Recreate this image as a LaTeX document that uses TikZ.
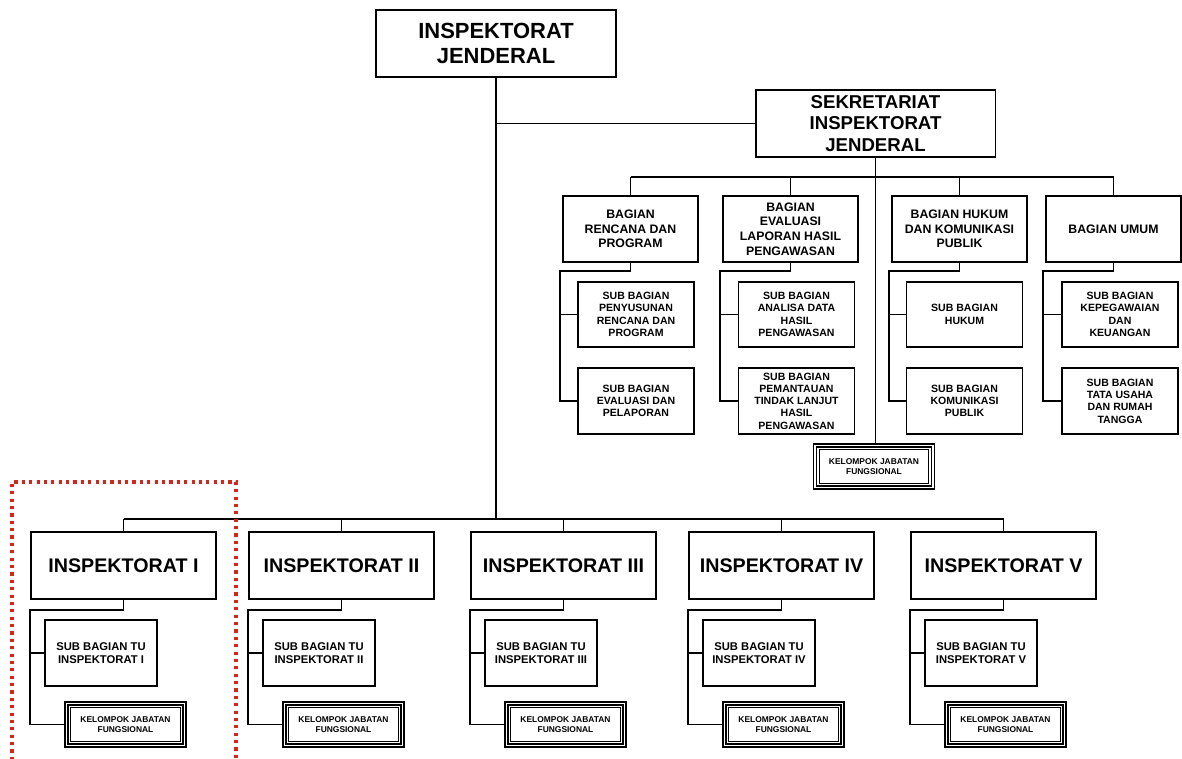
\documentclass[tikz,border=0pt]{standalone}
\usepackage{fontspec}
\setsansfont{Liberation Sans}
\usepackage{tikz}
\usetikzlibrary{positioning,calc}
\definecolor{dotred}{RGB}{214,38,28}
\tikzset{
  basic/.style  = {draw, line width=1.1pt, font=\sffamily\bfseries, rectangle,
                   align=center, inner sep=1pt},
  kepala/.style = {basic, minimum width=4.8cm, minimum height=1.34cm,
                   font=\sffamily\bfseries\fontsize{12.5}{14.2}\selectfont},
  sekre/.style  = {basic, minimum width=4.8cm, minimum height=1.34cm,
                   font=\sffamily\bfseries\fontsize{10.6}{12.4}\selectfont},
  bagian/.style = {basic, minimum width=2.7cm, minimum height=1.32cm,
                   font=\sffamily\bfseries\fontsize{7}{8.3}\selectfont},
  subbag/.style = {basic, minimum width=2.32cm, minimum height=1.31cm,
                   font=\sffamily\bfseries\fontsize{6}{7}\selectfont},
  insp/.style   = {basic, minimum width=3.7cm, minimum height=1.34cm,
                   font=\sffamily\bfseries\fontsize{11.2}{13}\selectfont},
  subtu/.style  = {basic, minimum width=2.24cm, minimum height=1.32cm,
                   font=\sffamily\bfseries\fontsize{6.4}{7.5}\selectfont},
  jafung/.style = {basic, line width=0.8pt, double, double distance=0.8pt,
                   minimum width=2.36cm, minimum height=0.84cm,
                   font=\sffamily\bfseries\fontsize{4.8}{5.8}\selectfont},
  garis/.style  = {line width=1.1pt},
  tepi/.style   = {dotred, line width=1.8pt, dash pattern=on 1.8pt off 2.4pt}
}

\begin{document}
\begin{tikzpicture}[x=0.02cm,y=-0.02cm]
  \useasboundingbox (0,0) rectangle (1182,758);

  % pimpinan dan sekretariat
  \node[kepala] (ij)  at (496,43.5)  {INSPEKTORAT\\JENDERAL};
  \node[sekre]  (sek) at (875.5,123.5) {SEKRETARIAT\\INSPEKTORAT\\JENDERAL};

  % bagian
  \node[bagian] (brp)   at (630.5,229) {BAGIAN\\RENCANA DAN\\PROGRAM};
  \node[bagian] (belhp) at (790.5,229) {BAGIAN\\EVALUASI\\LAPORAN HASIL\\PENGAWASAN};
  \node[bagian] (bhkp)  at (959.5,229) {BAGIAN HUKUM\\DAN KOMUNIKASI\\PUBLIK};
  \node[bagian] (bu)    at (1113.5,229) {BAGIAN UMUM};

  % sub bagian
  \node[subbag] (sbrp1)   at (636,314.5)  {SUB BAGIAN\\PENYUSUNAN\\RENCANA DAN\\PROGRAM};
  \node[subbag] (sbrp2)   at (636,401)    {SUB BAGIAN\\EVALUASI DAN\\PELAPORAN};
  \node[subbag] (sbelhp1) at (796.5,314.5){SUB BAGIAN\\ANALISA DATA\\HASIL\\PENGAWASAN};
  \node[subbag] (sbelhp2) at (796.5,401)  {SUB BAGIAN\\PEMANTAUAN\\TINDAK LANJUT\\HASIL\\PENGAWASAN};
  \node[subbag] (sbhkp1)  at (964.5,314.5){SUB BAGIAN\\HUKUM};
  \node[subbag] (sbhkp2)  at (964.5,401)  {SUB BAGIAN\\KOMUNIKASI\\PUBLIK};
  \node[subbag] (sbu1)    at (1120,314.5) {SUB BAGIAN\\KEPEGAWAIAN\\DAN\\KEUANGAN};
  \node[subbag] (sbu2)    at (1120,401)   {SUB BAGIAN\\TATA USAHA\\DAN RUMAH\\TANGGA};

  \node[jafung] (jfsek) at (874,466.5) {KELOMPOK JABATAN\\FUNGSIONAL};

  % inspektorat I - V
  \foreach \n/\lx/\r in {1/31/I,2/249/II,3/471/III,4/689/IV,5/911/V}{
    \node[insp]   (insp\n) at (\lx+92.5,565.5) {INSPEKTORAT \r};
    \node[subtu]  (tu\n)   at (\lx+70,653)     {SUB BAGIAN TU\\INSPEKTORAT \r};
    \node[jafung] (jf\n)   at (\lx+94.5,724.5) {KELOMPOK JABATAN\\FUNGSIONAL};
  }

  % garis pimpinan
  \coordinate (bawah) at (ij.south |- 0,519);
  \draw[garis] (ij.south) -- (bawah);
  \draw[garis] (ij.south |- sek.west) -- (sek.west);
  \draw[garis] (insp1.north |- bawah) -- (insp5.north |- bawah);
  \foreach \n in {1,...,5}
    \draw[garis] (insp\n.north |- bawah) -- (insp\n.north);

  % garis sekretariat
  \coordinate (bus) at (sek.south |- 0,177);
  \draw[garis] (sek.south) -- (jfsek.north -| sek.south);
  \draw[garis] (brp.north |- bus) -- (bu.north |- bus);
  \foreach \b in {brp,belhp,bhkp,bu}
    \draw[garis] (\b.north |- bus) -- (\b.north);

  % garis bagian ke sub bagian
  \foreach \b in {brp,belhp,bhkp,bu}{
    \draw[garis] (\b.south) -- ++(0,8) -| ([xshift=-1]\b.west |- s\b2.west) -- (s\b2.west);
    \draw[garis] ([xshift=-1]\b.west |- s\b1.west) -- (s\b1.west);
  }

  % garis inspektorat ke sub bagian tu dan jafung
  \foreach \n in {1,...,5}{
    \draw[garis] (insp\n.south) -- ++(0,10) -| (insp\n.west |- jf\n.west) -- (jf\n.west);
    \draw[garis] (insp\n.west |- tu\n.west) -- (tu\n.west);
  }

  % bingkai dalam jafung
  \foreach \k in {jfsek,jf1,jf2,jf3,jf4,jf5}
    \draw[line width=0.7pt] ([shift={(5,-5)}]\k.south west) rectangle ([shift={(-5,5)}]\k.north east);

  % tanda merah
  \draw[tepi] (12,760) -- (12,482) -- (236,482) -- (236,760);
\end{tikzpicture}
\end{document}
